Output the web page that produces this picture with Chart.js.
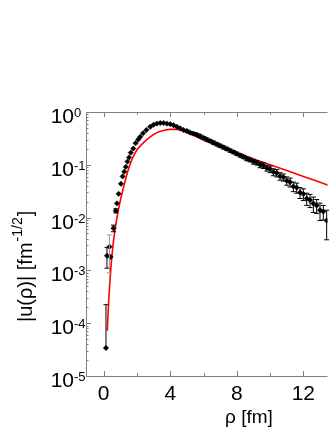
<!DOCTYPE html>
<html>
<head>
<meta charset="utf-8">
<script src="https://cdn.jsdelivr.net/npm/chart.js@4/dist/chart.umd.min.js"></script>
<style>
  html, body { margin: 0; padding: 0; background: #fff; }
  #wrap { width: 332px; height: 430px; }
</style>
</head>
<body>
<div id="wrap"><canvas id="chart" width="332" height="430"></canvas></div>
<script>
// measured points |u(rho)| with errors
const rhoData = [0.14, 0.2, 0.35, 0.42, 0.59, 0.73, 0.8, 0.9, 1.04, 1.14, 1.24, 1.33, 1.43, 1.53, 1.63, 1.78, 1.92, 2.08, 2.2, 2.37, 2.57, 2.8,
  3.0, 3.2, 3.4, 3.6, 3.8, 4.0, 4.2, 4.4, 4.6, 4.8, 5.0, 5.2, 5.4, 5.6, 5.8, 6.0, 6.2, 6.4, 6.6, 6.8, 7.0, 7.2, 7.4, 7.6, 7.8,
  8.0, 8.2, 8.4, 8.6, 8.8, 9.0, 9.2, 9.4, 9.6, 9.8, 10.0, 10.2, 10.4, 10.6, 10.8, 11.0, 11.2, 11.4, 11.6, 11.8,
  12.0, 12.2, 12.4, 12.6, 12.8, 13.0, 13.2, 13.4];
const uData = [0.000034, 0.0019, 0.0028, 0.0018, 0.0063, 0.0135, 0.0186, 0.0282, 0.0437, 0.0603, 0.0741, 0.0912, 0.115, 0.138, 0.170, 0.204, 0.257, 0.302, 0.339, 0.398, 0.457, 0.525,
  0.575, 0.603, 0.617, 0.617, 0.603, 0.589, 0.562, 0.525, 0.490, 0.457, 0.437, 0.407, 0.389, 0.372, 0.347, 0.324, 0.302, 0.282, 0.263, 0.245, 0.229, 0.214, 0.200, 0.186, 0.174,
  0.162, 0.151, 0.141, 0.130, 0.124, 0.115, 0.110, 0.100, 0.097, 0.087, 0.083, 0.073, 0.070, 0.061, 0.058, 0.050, 0.047, 0.039, 0.037, 0.030,
  0.028, 0.023, 0.0215, 0.0185, 0.017, 0.0138, 0.013, 0.0088];
const uErr = [0.00019, 0.0008, 0.0019, 0, 0.0009, 0.0012, 0, 0, 0, 0, 0, 0, 0, 0, 0, 0, 0, 0, 0, 0, 0, 0,
  0, 0, 0, 0, 0, 0, 0, 0, 0, 0, 0.02, 0.02, 0.02, 0.02, 0.02, 0.02, 0.02, 0.018, 0.018, 0.017, 0.016, 0.015, 0.014, 0.013, 0.012,
  0.011, 0.011, 0.01, 0.01, 0.01, 0.012, 0.011, 0.012, 0.012, 0.011, 0.012, 0.011, 0.011, 0.01, 0.009, 0.009, 0.009, 0.008, 0.008, 0.007,
  0.007, 0.006, 0.006, 0.006, 0.005, 0.005, 0.004, 0.005];

// red model curve
const rhoFit = [0.22, 0.3, 0.4, 0.5, 0.6, 0.8, 1.0, 1.2, 1.4, 1.6, 1.8, 2.0, 2.4, 2.8, 3.2, 3.6, 4.0, 4.4, 4.8, 5.2, 5.6, 6.0, 6.5, 7.0, 8.0, 9.0, 10.0, 11.0, 12.0, 13.0, 14.0];
const uFit = [0.000072, 0.00025, 0.00079, 0.0019, 0.0038, 0.01, 0.0209, 0.038, 0.066, 0.105, 0.148, 0.191, 0.263, 0.339, 0.407, 0.447, 0.468, 0.468, 0.437, 0.389, 0.339, 0.295, 0.257, 0.219, 0.170, 0.129, 0.100, 0.0776, 0.0603, 0.0468, 0.0355];

const xMajor = [0, 4, 8, 12];
const xMinor = [2, 6, 10];
const yExponents = [0, -1, -2, -3, -4, -5];

const FONT = "'Liberation Sans', Arial, Helvetica, sans-serif";
const AXIS = '#808080';

const frame = {
  id: 'frame',
  afterDatasetsDraw(chart) {
    const { ctx, scales: { x, y } } = chart;
    ctx.save();
    // error bars
    ctx.lineWidth = 1;
    for (let i = 0; i < rhoData.length; i++) {
      const e = uErr[i];
      if (!e) continue;
      const px = x.getPixelForValue(rhoData[i]);
      const top = y.getPixelForValue(uData[i] + e);
      const lo = uData[i] - e;
      const bot = lo > 0 ? y.getPixelForValue(lo) : y.getPixelForValue(uData[i]);
      ctx.strokeStyle = i === 2 ? '#999' : '#000';
      ctx.beginPath();
      ctx.moveTo(px, top); ctx.lineTo(px, bot);
      ctx.moveTo(px - 2.5, top); ctx.lineTo(px + 2.5, top);
      if (lo > 0) { ctx.moveTo(px - 2.5, bot); ctx.lineTo(px + 2.5, bot); }
      ctx.stroke();
    }
    ctx.restore();
  },
  afterDraw(chart) {
    const { ctx, chartArea: a, scales: { x, y } } = chart;
    ctx.save();
    ctx.strokeStyle = AXIS;
    ctx.lineWidth = 1;
    ctx.beginPath();
    ctx.moveTo(a.left + 0.5, a.top + 0.5); ctx.lineTo(a.left + 0.5, a.bottom + 0.5);
    ctx.moveTo(a.left, a.bottom + 0.5); ctx.lineTo(a.right, a.bottom + 0.5);
    ctx.moveTo(a.left, a.top + 0.5); ctx.lineTo(a.right, a.top + 0.5);
    // x ticks, inward on bottom and top
    xMajor.concat(xMinor).forEach(v => {
      const len = xMajor.includes(v) ? 5 : 3;
      const px = Math.round(x.getPixelForValue(v)) + 0.5;
      ctx.moveTo(px, a.bottom); ctx.lineTo(px, a.bottom - len);
      ctx.moveTo(px, a.top); ctx.lineTo(px, a.top + len);
    });
    // y ticks, log decades + minors
    yExponents.forEach(p => {
      const py = Math.round(y.getPixelForValue(Math.pow(10, p))) + 0.5;
      ctx.moveTo(a.left, py); ctx.lineTo(a.left + 5, py);
      if (p < 0) {
        for (let m = 2; m <= 9; m++) {
          const pm = Math.round(y.getPixelForValue(m * Math.pow(10, p))) + 0.5;
          ctx.moveTo(a.left, pm); ctx.lineTo(a.left + 2.5, pm);
        }
      }
    });
    ctx.stroke();

    ctx.fillStyle = '#000';
    // x tick labels
    ctx.font = '21px ' + FONT;
    ctx.textAlign = 'center';
    ctx.textBaseline = 'alphabetic';
    xMajor.forEach(v => ctx.fillText(String(v), x.getPixelForValue(v), a.bottom + 24));

    // y tick labels 10^p
    yExponents.forEach(p => {
      const py = y.getPixelForValue(Math.pow(10, p));
      ctx.font = '21px ' + FONT;
      ctx.textAlign = 'right';
      ctx.fillText('10', a.left - 12, py + 11);
      ctx.font = '13px ' + FONT;
      ctx.textAlign = 'left';
      ctx.fillText(String(p), a.left - 12, py + 5);
    });

    // x title
    ctx.font = '19px ' + FONT;
    ctx.textAlign = 'center';
    ctx.fillText('ρ [fm]', 249, 423);

    // y title, rotated
    ctx.translate(32, 322);
    ctx.rotate(-Math.PI / 2);
    ctx.textAlign = 'left';
    ctx.font = '20px ' + FONT;
    const t1 = '|u(ρ)| [fm';
    ctx.fillText(t1, 0, 0);
    let w = ctx.measureText(t1).width;
    ctx.font = '14px ' + FONT;
    ctx.fillText('-1/2', w + 1, -10);
    w += ctx.measureText('-1/2').width + 2;
    ctx.font = '20px ' + FONT;
    ctx.fillText(']', w, 0);
    ctx.restore();
  }
};

new Chart(document.getElementById('chart'), {
  type: 'scatter',
  data: {
    datasets: [
      {
        label: 'model',
        data: rhoFit.map((r, i) => ({ x: r, y: uFit[i] })),
        showLine: true,
        borderColor: '#ff0000',
        borderWidth: 1.6,
        pointRadius: 0,
        cubicInterpolationMode: 'monotone',
        order: 2
      },
      {
        label: 'data',
        data: rhoData.map((r, i) => ({ x: r, y: uData[i] })),
        showLine: false,
        pointStyle: 'rectRot',
        backgroundColor: '#000',
        borderColor: '#000',
        borderWidth: 0.5,
        pointRadius: 2.7,
        order: 1
      }
    ]
  },
  options: {
    responsive: false,
    animation: false,
    devicePixelRatio: 1,
    layout: { padding: { top: 112, right: 0, left: 0, bottom: 0 } },
    plugins: { legend: { display: false }, tooltip: { enabled: false } },
    scales: {
      x: {
        type: 'linear', min: -1.06, max: 13.45,
        grid: { display: false }, border: { display: false },
        ticks: { display: false },
        afterFit: s => { s.height = 54; }
      },
      y: {
        type: 'logarithmic', min: 1e-5, max: 1,
        grid: { display: false }, border: { display: false },
        ticks: { display: false },
        afterFit: s => { s.width = 86; }
      }
    }
  },
  plugins: [frame]
});
</script>
</body>
</html>
